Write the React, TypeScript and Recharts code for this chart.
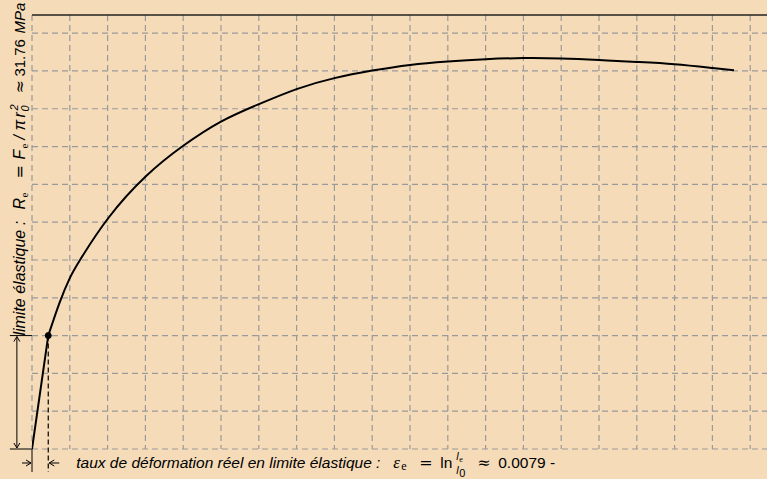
import React from 'react';
import { LineChart, Line, XAxis, YAxis, CartesianGrid, ReferenceLine, ReferenceDot } from 'recharts';

// values in grid units (one dashed cell = 1 unit)
const elasticStrain = [0, 0.43];
const elasticStress = [0, 3.0];

const plasticStrain = [0.43, 0.74, 1.0, 1.27, 2.02, 3.02, 4.0, 5.0, 6.0, 7.0, 8.0, 9.0, 10.0, 11.0, 12.0, 13.0, 14.0, 15.0, 16.0, 17.0, 18.0, 18.57];
const plasticStress = [3.0, 3.9, 4.52, 5.0, 6.11, 7.22, 8.02, 8.66, 9.12, 9.52, 9.81, 10.01, 10.16, 10.25, 10.31, 10.34, 10.33, 10.29, 10.24, 10.18, 10.08, 10.02];

const xTicks = [0, 1, 2, 3, 4, 5, 6, 7, 8, 9, 10, 11, 12, 13, 14, 15, 16, 17, 18, 19];
const yTicks = [0, 1, 2, 3, 4, 5, 6, 7, 8, 9, 10, 11];

const X_MAX = 19.444;
const Y_MAX = 11.48;
const yieldPoint = { x: 0.43, y: 3.0 };

const elasticData = elasticStrain.map((x, i) => ({ x, y: elasticStress[i] }));
const plasticData = plasticStrain.map((x, i) => ({ x, y: plasticStress[i] }));

const BG = '#f5dbb8';
const SANS = "'Liberation Sans', Arial, Helvetica, sans-serif";
const SERIF = "'DejaVu Serif', 'Liberation Serif', serif";
const RSERIF = "'Liberation Serif', 'DejaVu Serif', serif";

// vertical dimension arrow + rotated label
const VerticalDim = (props: any) => {
  const { x1, y1, y2 } = props;
  const x = x1;
  const top = Math.min(y1, y2);
  const bot = Math.max(y1, y2);
  return (
    <g>
      <line x1={x - 7} x2={x + 15} y1={top} y2={top} stroke="#000" strokeWidth={1} />
      <line x1={x - 7} x2={x + 15} y1={bot} y2={bot} stroke="#000" strokeWidth={1} />
      <line x1={x} x2={x} y1={top + 1} y2={bot - 1} stroke="#000" strokeWidth={1} />
      <polyline points={`${x - 3},${top + 6} ${x},${top + 1} ${x + 3},${top + 6}`} fill="none" stroke="#000" strokeWidth={1} />
      <polyline points={`${x - 3},${bot - 6} ${x},${bot - 1} ${x + 3},${bot - 6}`} fill="none" stroke="#000" strokeWidth={1} />
      <text transform={`translate(${x + 8},${top}) rotate(-90)`} fontFamily={SANS} fontSize={16} fontStyle="italic" fill="#000">
        <tspan x={0} y={0}>limite élastique :</tspan>
        <tspan x={126} y={0}>R</tspan>
        <tspan x={138} y={3} fontSize={11} fontStyle="normal" fontFamily={RSERIF}>e</tspan>
        <tspan x={157} y={0} fontStyle="normal" fontFamily={SERIF}>=</tspan>
        <tspan x={176} y={0}>F</tspan>
        <tspan x={187} y={3} fontSize={11} fontStyle="normal" fontFamily={RSERIF}>e</tspan>
        <tspan x={196} y={0}>/</tspan>
        <tspan x={205} y={0}>π</tspan>
        <tspan x={218} y={0}>r</tspan>
        <tspan x={224} y={4} fontSize={11}>0</tspan>
        <tspan x={225} y={-7} fontSize={11}>2</tspan>
        <tspan x={242} y={0} fontStyle="normal" fontFamily={SERIF}>≈</tspan>
        <tspan x={259} y={0} fontSize={15} fontStyle="normal">31.76</tspan>
        <tspan x={302} y={0} fontSize={15}>MPa</tspan>
      </text>
    </g>
  );
};

// horizontal dimension arrows + formula label
const HorizontalDim = (props: any) => {
  const { x1, y1, x2 } = props;
  const l = Math.min(x1, x2);
  const r = Math.max(x1, x2);
  const y = y1;
  const ty = y + 5;
  return (
    <g>
      <line x1={l} x2={l} y1={y - 14} y2={y + 9} stroke="#000" strokeWidth={1} />
      <line x1={l - 10} x2={l - 1} y1={y} y2={y} stroke="#000" strokeWidth={1} />
      <polyline points={`${l - 6},${y - 3} ${l - 1},${y} ${l - 6},${y + 3}`} fill="none" stroke="#000" strokeWidth={1} />
      <line x1={r + 1} x2={r + 11} y1={y} y2={y} stroke="#000" strokeWidth={1} />
      <polyline points={`${r + 6},${y - 3} ${r + 1},${y} ${r + 6},${y + 3}`} fill="none" stroke="#000" strokeWidth={1} />
      <text fontFamily={SANS} fontSize={15.5} fontStyle="italic" fill="#000">
        <tspan x={r + 28} y={ty}>taux de déformation réel en limite élastique :</tspan>
        <tspan x={r + 345} y={ty} fontSize={17} fontFamily={RSERIF}>ε</tspan>
        <tspan x={r + 353} y={ty + 2} fontSize={12} fontStyle="normal" fontFamily={RSERIF}>e</tspan>
        <tspan x={r + 371} y={ty} fontSize={16} fontStyle="normal" fontFamily={SERIF}>=</tspan>
        <tspan x={r + 392} y={ty} fontStyle="normal">ln</tspan>
        <tspan x={r + 408} y={ty - 8} fontSize={11}>l</tspan>
        <tspan x={r + 411} y={ty - 6} fontSize={8} fontStyle="normal" fontFamily={RSERIF}>e</tspan>
        <tspan x={r + 408} y={ty + 6} fontSize={11}>l</tspan>
        <tspan x={r + 411} y={ty + 9} fontSize={11} fontStyle="normal">0</tspan>
        <tspan x={r + 429} y={ty} fontSize={16} fontStyle="normal" fontFamily={SERIF}>≈</tspan>
        <tspan x={r + 450} y={ty} fontStyle="normal">0.0079 -</tspan>
      </text>
    </g>
  );
};

const applyScale = (axis: any, v: number, fallback: number) => {
  const s = axis && axis.scale;
  if (typeof s === 'function') return s(v);
  if (s && typeof s.map === 'function') return s.map(v);
  return fallback;
};

const vGrid = (props: any) => {
  const { xAxis, offset } = props;
  return xTicks.map((t) => applyScale(xAxis, t, offset.left + (t / X_MAX) * offset.width));
};
const hGrid = (props: any) => {
  const { yAxis, offset } = props;
  return yTicks.map((t) => applyScale(yAxis, t, offset.top + offset.height - (t / Y_MAX) * offset.height));
};

const App: React.FC = () => {
  return (
    <div style={{ position: 'absolute', left: 0, top: 0, width: 767, height: 479, background: BG, overflow: 'hidden' }}>
      <LineChart width={767} height={479} margin={{ top: 15, right: 0, bottom: 30, left: 32 }}>
        <CartesianGrid
          strokeDasharray="6 4"
          stroke="#9a9a9a"
          strokeWidth={1.2}
          verticalCoordinatesGenerator={vGrid}
          horizontalCoordinatesGenerator={hGrid}
        />
        <XAxis
          type="number"
          dataKey="x"
          domain={[0, X_MAX]}
          ticks={xTicks}
          tick={false}
          tickLine={false}
          height={0}
          allowDataOverflow
          axisLine={{ stroke: '#000', strokeWidth: 1.5 }}
        />
        <YAxis
          type="number"
          domain={[0, Y_MAX]}
          ticks={yTicks}
          tick={false}
          tickLine={false}
          width={0}
          allowDataOverflow
          axisLine={{ stroke: '#000', strokeWidth: 1.5 }}
        />
        <ReferenceLine y={Y_MAX} stroke="#222" strokeWidth={1.5} />
        <ReferenceLine
          segment={[yieldPoint, { x: yieldPoint.x, y: -0.61 }]}
          stroke="#000"
          strokeWidth={1.2}
          strokeDasharray="5 3"
          ifOverflow="visible"
        />
        <ReferenceLine
          segment={[{ x: -0.4, y: 0 }, { x: -0.4, y: yieldPoint.y }]}
          ifOverflow="visible"
          shape={VerticalDim}
        />
        <ReferenceLine
          segment={[{ x: 0, y: -0.37 }, { x: yieldPoint.x, y: -0.37 }]}
          ifOverflow="visible"
          shape={HorizontalDim}
        />
        <Line data={elasticData} dataKey="y" type="linear" stroke="#000" strokeWidth={2} dot={false} isAnimationActive={false} />
        <Line data={plasticData} dataKey="y" type="natural" stroke="#000" strokeWidth={2} dot={false} isAnimationActive={false} />
        <ReferenceDot x={yieldPoint.x} y={yieldPoint.y} r={3} fill="#000" stroke="#000" />
      </LineChart>
    </div>
  );
};

export default App;
